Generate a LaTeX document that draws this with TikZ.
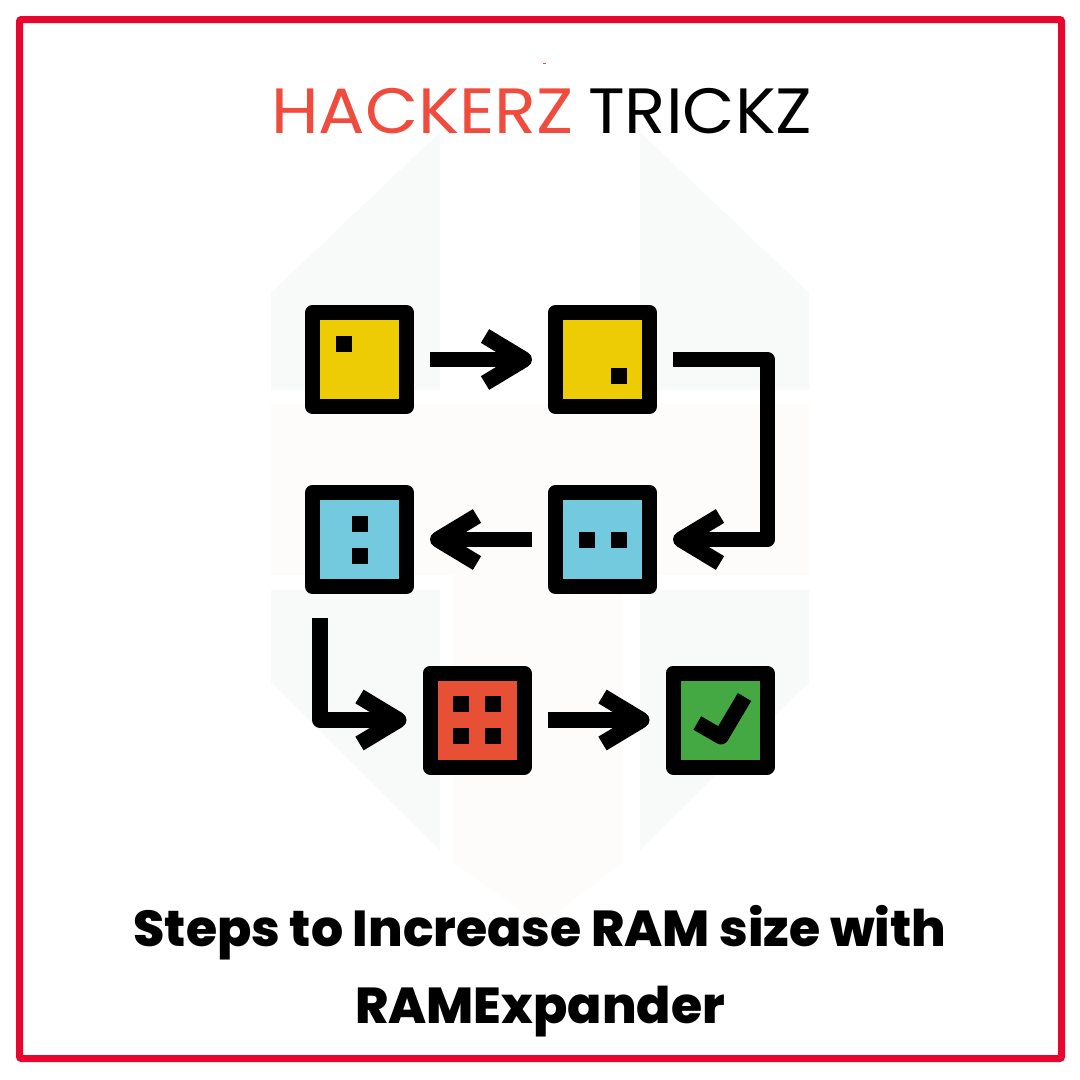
\documentclass[tikz,border=0pt]{standalone}
\usepackage{fontspec}
\setmainfont{Poppins}
\newfontfamily\titlefont{Poppins ExtraBold}
\usetikzlibrary{arrows.meta,positioning}
\definecolor{framered}{HTML}{E8062F}
\definecolor{logored}{HTML}{F04C3E}
\definecolor{stepyellow}{HTML}{EDCC05}
\definecolor{stepblue}{HTML}{73C9DE}
\definecolor{stepred}{HTML}{E85036}
\definecolor{stepgreen}{HTML}{44A843}
\definecolor{wmgreen}{HTML}{F7FAF9}
\definecolor{wmcream}{HTML}{FDFCFA}
\pgfdeclarearrow{name=Chevron,
  setup code={\pgfarrowssettipend{0pt}\pgfarrowssetlineend{-9pt}\pgfarrowssetbackend{-47pt}\pgfarrowssetvisualbackend{-47pt}},
  drawing code={\pgfsetlinewidth{16pt}\pgfsetroundjoin\pgfsetbuttcap
    \pgfpathmoveto{\pgfpoint{-47pt}{23.5pt}}\pgfpathlineto{\pgfpoint{-8pt}{0pt}}\pgfpathlineto{\pgfpoint{-47pt}{-23.5pt}}\pgfusepathqstroke}}
\tikzset{stepbox/.style={draw, line width=15pt, line join=round, minimum size=94pt, inner sep=0pt},
  dot/.style={fill=black, minimum size=16pt, inner sep=0pt},
  link/.style={line width=15.5pt, line join=round, shorten <=16pt, shorten >=16pt, -Chevron},
  logo/.style={inner sep=0pt, font=\fontsize{64}{64}\selectfont\addfontfeature{Weight=Light,FakeStretch=#1}},
  title/.style={align=center, inner sep=0pt, font=\titlefont\fontsize{50.5}{77}\selectfont}}

\begin{document}
\begin{tikzpicture}[x=1pt, y=-1pt]
    \useasboundingbox (0,0) rectangle (1080,1080);
    \fill[white] (0,0) rectangle (1080,1080);
    \fill[wmgreen] (271,293) -- (440,132) -- (440,390) -- (271,390) -- cycle;
    \fill[wmgreen] (809,293) -- (640,132) -- (640,390) -- (809,390) -- cycle;
    \fill[wmgreen] (271,590) -- (440,590) -- (440,850) -- (271,682) -- cycle;
    \fill[wmgreen] (809,590) -- (640,590) -- (640,850) -- (809,682) -- cycle;
    \fill[wmcream] (271,404) rectangle (809,575);
    \fill[wmcream] (453,575) -- (623,575) -- (623,862) -- (540,925) -- (453,862) -- cycle;
    \draw[framered, line width=7pt, rounded corners=2pt] (19.5,19.5) rectangle (1061.5,1058.5);
    \fill[logored] (542.5,62.5) rectangle (546,64);

    \node[logo=1.075, text=logored, anchor=base west] (L1) at (271,133) {HACKERZ};
    \node[logo=1.06, text=black, anchor=base west] (L2) at (588,133) {TRICKZ};

    \node[stepbox, fill=stepyellow] (B1) at (359.5,359.5) {};
    \node[stepbox, fill=stepyellow, right=134pt of B1] (B2) {};
    \node[stepbox, fill=stepblue, below=71pt of B2] (B3) {};
    \node[stepbox, fill=stepblue, left=134pt of B3] (B4) {};
    \node[stepbox, fill=stepred] (B5) at (477,720) {};
    \node[stepbox, fill=stepgreen, right=134pt of B5] (B6) {};

    \foreach \n/\b/\dx/\dy in {1/B1/-16/-16, 2/B2/16/16, 3/B3/-16/0, 4/B3/16/0, 5/B4/0/-16, 6/B4/0/16,
        7/B5/-16/-16, 8/B5/16/-16, 9/B5/-16/16, 10/B5/16/16}
        \node[dot] (D\n) at ([shift={(\dx,\dy)}]\b) {};

    \coordinate (C1) at (767.5,359.5);
    \coordinate (C2) at (320,618.3);
    \coordinate (K1) at (697.3,723);
    \coordinate (K2) at (721,736.7);
    \coordinate (K3) at (744.5,697);

    \draw[link] (B1.east) -- (B2.west);
    \draw[link] (B2.east) -- (C1) |- (B3.east);
    \draw[link] (B3.west) -- (B4.east);
    \draw[link, shorten <=0pt] (C2) |- (B5.west);
    \draw[link] (B5.east) -- (B6.west);
    \draw[line width=15.5pt, line join=round] (K1) -- (K2) -- (K3);

    \node[title] (T1) at (540,971) {Steps to Increase RAM size with\\RAMExpander};
\end{tikzpicture}
\end{document}
